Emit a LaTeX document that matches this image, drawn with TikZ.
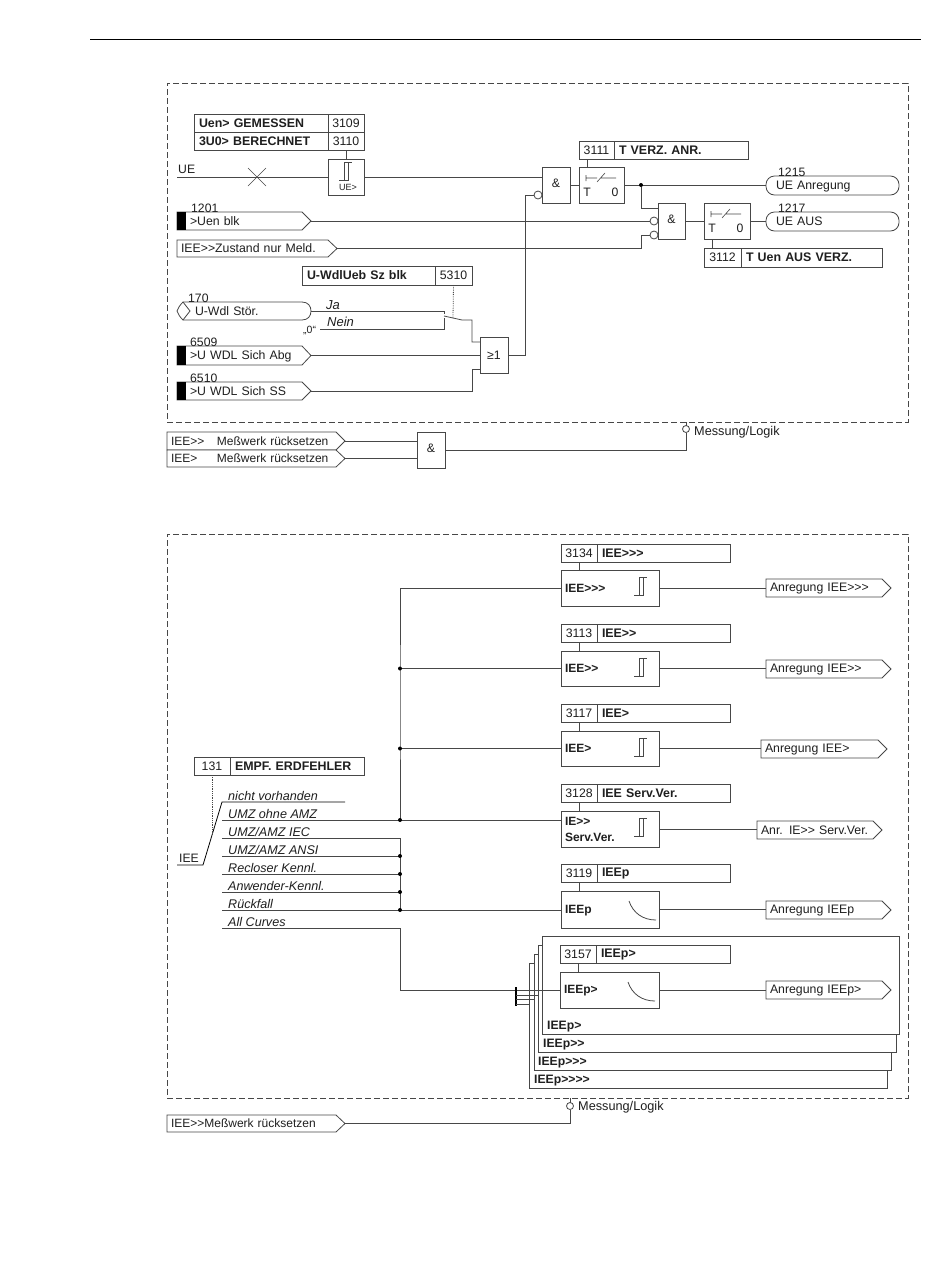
\documentclass[tikz,border=0pt]{standalone}
\usepackage{fontspec}
\setmainfont{Liberation Sans}
\newcommand\bx[7][]{\pgfmathsetmacro\bw{#5-#3}\pgfmathsetmacro\bh{#6-#4}%
  \node[cellbase,minimum width=\bw pt,minimum height=\bh pt,text width=\bw pt-8pt,#1] (#2) at (#3,#4) {\rule[-1.4pt]{0pt}{11.4pt}#7};}
\newcommand\sig[7][]{\draw[wire,fill=white] (#3,#4) -- (#5-9,#4) -- (#5,{(#4+#6)/2}) -- (#5-9,#6) -- (#3,#6) -- cycle;%
  \bx[draw=none,fill=none,#1]{#2}{#3}{#4}{#5}{#6}{#7}}
\newcommand\stad[6]{\draw[wire,fill=white,rounded corners=8.5pt] (#2,#3) rectangle (#4,#5);%
  \bx[draw=none,fill=none]{#1}{#2}{#3}{#4}{#5}{#6}}
\newcommand\hyst[2]{\begin{scope}[shift={(#1,#2)}]\draw[wire,line width=.6pt] (0,18) -- (9,18) -- (9,0) -- (13,0) (5,18) -- (5,0) -- (9,0);\end{scope}}
\newcommand\crv[2]{\begin{scope}[shift={(#1,#2)}]\draw[wire] (68,10) .. controls (72,22) and (82,29) .. (95,29);\end{scope}}
\newcommand\swt[2]{\begin{scope}[shift={(#1,#2)}]
  \draw[wire,line width=.6pt] (7,8) -- (7,14) (7,11) -- (18,11) (18,15) -- (26,6) (22,11) -- (37,11);
  \node[plain,anchor=base] at (8,29) {T}; \node[plain,anchor=base] at (36,29) {0};\end{scope}}
\tikzset{
  wire/.style={draw=black!72,line width=.8pt},
  frame/.style={draw=black!72,line width=.8pt,dash pattern=on 6pt off 3pt},
  cellbase/.style={draw=black!72,line width=.8pt,anchor=north west,inner xsep=4pt,inner ysep=0pt,outer sep=0pt,align=left,font=\fontsize{12.3}{14}\selectfont,text=black!88},
  numcell/.style={align=center},
  txtcell/.style={font=\fontsize{12.4}{14}\selectfont\bfseries},
  gate/.style={align=center,fill=white},
  blockb/.style={font=\fontsize{12}{16}\selectfont\bfseries,fill=white},
  plain/.style={inner sep=0pt,font=\fontsize{12.2}{14}\selectfont,text=black!88},
  opt/.style={plain,anchor=base west,font=\fontsize{12.6}{14}\selectfont\itshape},
  boldlbl/.style={plain,anchor=base west,font=\fontsize{12.2}{14}\selectfont\bfseries},
  dot/.style={circle,fill=black,inner sep=0pt,minimum size=4pt},
  inv/.style={circle,draw=black!72,line width=.8pt,fill=white,inner sep=0pt,minimum size=8pt,outer sep=0pt},
  pick/.style={circle,draw=black!72,line width=.8pt,fill=white,inner sep=0pt,minimum size=7pt,outer sep=0pt},
  rst/.style={font=\fontsize{12}{14}\selectfont}
}
\begin{document}
\begin{tikzpicture}[x=1pt,y=-1pt]
\useasboundingbox (0,0) rectangle (950,1288);
\fill[white] (0,0) rectangle (950,1288);
\draw[black,line width=1pt] (90,39) -- (921,39);
% ------------ upper frame
\bx[frame,fill=none]{frameA}{167}{83}{908}{422}{}
\bx[txtcell]{pa}{194}{114}{328}{132}{\hspace*{1pt}Uen> GEMESSEN}
\bx[numcell]{pan}{328}{114}{364}{132}{3109}
\bx[txtcell]{pb}{194}{132}{328}{150}{\hspace*{1pt}3U0> BERECHNET}
\bx[numcell]{pbn}{328}{132}{364}{150}{3110}
\bx{cmp}{328}{159}{364}{195}{}
\hyst{339}{162}
\node[plain,font=\fontsize{9}{10}\selectfont] (cmpl) at (348,187) {UE>};
\draw[wire] (pbn.south) -- (cmp.north);
\coordinate (ue) at (177,177);
\node[plain,anchor=base west] (uel) at (178,173) {UE};
\draw[wire] (ue) -- (cmp.west);
\draw[wire,line width=.6pt] (248,168) -- (266,186) (248,186) -- (266,168);
\bx[numcell]{ta}{579}{141}{614}{159}{3111}
\bx[txtcell]{tat}{614}{141}{748}{159}{\hspace*{1pt}T VERZ. ANR.}
\bx[gate]{g1}{542}{167}{570}{203}{\raisebox{3pt}{\&}}
\bx{t1}{579}{167}{624}{203}{}
\swt{579}{167}
\draw[wire] (587,159) -- (587,167);
\node[inv] (i1) at (538,195) {};
\draw[wire] (cmp.east) -- (cmp.east -| g1.west);
\draw[wire] (g1.east) -- (t1.west);
\stad{ueanr}{766}{176}{899}{195}{\hspace*{6pt}UE Anregung}
\node[plain,anchor=base west] (n1215) at (778,176) {1215};
\draw[wire] (t1.east) -- (t1.east -| ueanr.west);
\node[dot] (d0) at (641,185) {};
\bx[gate]{g2}{658}{203}{685}{239}{\raisebox{3pt}{\&}}
\node[inv] (i2) at (654,221) {};
\node[inv] (i3) at (654,235) {};
\draw[wire] (d0) |- (658,208);
\bx{t2}{704}{203}{750}{239}{}
\swt{704}{203}
\stad{ueaus}{766}{212}{899}{231}{\hspace*{6pt}UE AUS}
\node[plain,anchor=base west] (n1217) at (778,212) {1217};
\draw[wire] (g2.east) -- (t2.west);
\draw[wire] (t2.east) -- (t2.east -| ueaus.west);
\bx[numcell]{tb}{704}{248}{741}{267}{3112}
\bx[txtcell]{tbt}{741}{248}{882}{267}{\hspace*{1pt}T Uen AUS VERZ.}
\draw[wire] (712,239) -- (712,248);
% inputs
\sig{uenb}{177}{212}{311}{230}{\hspace*{9pt}>Uen blk}
\fill[black] (177,212) rectangle (186,230);
\node[plain,anchor=base west] (n1201) at (191,212) {1201};
\draw[wire] (uenb.east) -- (i2.west);
\sig{zust}{177}{240}{337}{257}{IEE>{}>Zustand nur Meld.}
\draw[wire] (zust.east) -- (641,248.5) |- (i3.west);
\bx[txtcell]{ws}{302}{266}{435}{285}{\hspace*{1pt}U-WdlUeb Sz blk}
\bx[numcell]{wsn}{435}{266}{472}{285}{5310}
% 170
\draw[wire,fill=white] (183,302) -- (302,302) .. controls (308,302) and (311,306) .. (311,311) .. controls (311,316) and (308,320) .. (302,320) -- (183,320) .. controls (180,317) and (178,314) .. (177,311) .. controls (178,308) and (180,305) .. (183,302) -- cycle;
\draw[wire] (183,302) -- (190,311) -- (183,320);
\bx[draw=none,fill=none]{uwdl}{191}{302}{311}{320}{U-Wdl Stör.}
\node[plain,anchor=base west] (n170) at (188,302) {170};
\coordinate (ja) at (444,311);
\coordinate (nein) at (444,329);
\coordinate (zero) at (320,329);
\draw[wire] (uwdl.east) -- (ja) -- (444,314);
\draw[wire] (zero) -- (nein) -- (444,318);
\node[plain,anchor=base west,font=\fontsize{13}{14}\selectfont\itshape] (jal) at (326,309) {Ja};
\node[plain,anchor=base west,font=\fontsize{13}{14}\selectfont\itshape] (neinl) at (327,326) {Nein};
\node[plain,anchor=base west,font=\fontsize{10.5}{12}\selectfont] (zerol) at (303,333) {„0“};
\bx[gate]{o1}{480}{337}{508}{373}{≥1}
\draw[wire] (444,316) -- (462,320) -- (472,320) |- (o1.west |- 0,342);
\draw[wire,densely dotted] (wsn.south) -- (453,318);
\sig{wa}{177}{346}{311}{365}{\hspace*{9pt}>U WDL Sich Abg}
\fill[black] (177,346) rectangle (186,365);
\node[plain,anchor=base west] (n6509) at (190,346) {6509};
\sig{wb}{177}{382}{311}{400}{\hspace*{9pt}>U WDL Sich SS}
\fill[black] (177,382) rectangle (186,400);
\node[plain,anchor=base west] (n6510) at (190,382) {6510};
\draw[wire] (wa.east) -- (o1.west |- wa.east);
\draw[wire] (wb.east) -| (472,369) -- (o1.west |- 0,369);
\draw[wire] (o1.east) -- (525,355) |- (i1.west);
% reset 1
\sig[rst]{r1}{167}{432}{345}{450}{\makebox[46pt][l]{IEE>{}>}Meßwerk rücksetzen}
\sig[rst]{r2}{167}{450}{345}{467}{\makebox[46pt][l]{IEE>}Meßwerk rücksetzen}
\bx[gate]{ar}{417}{432}{445}{468}{\raisebox{3pt}{\&}}
\draw[wire] (r1.east) -- (r1.east -| ar.west);
\draw[wire] (r2.east) -- (r2.east -| ar.west);
\node[pick] (m1) at (686,429) {};
\draw[wire] (686,422) -- (m1.north);
\draw[wire] (ar.east) -| (m1.south);
\node[plain,anchor=base west,font=\fontsize{12.7}{14}\selectfont] (ml1) at (694,435) {Messung/Logik};
% ------------ lower frame
\bx[frame,fill=none]{frameB}{167}{534}{908}{1098}{}
% selector
\bx[numcell]{sel}{194}{757}{230}{775}{131}
\bx[txtcell]{selt}{230}{757}{364}{775}{\hspace*{1pt}EMPF. ERDFEHLER}
\coordinate (iee) at (177,865);
\coordinate (o1c) at (222,802);
\coordinate (o1e) at (345,802);
\node[plain,anchor=base west] (ieel) at (179,862) {IEE};
\draw[wire,black] (iee) -- (203,865) -- (o1c) -- (o1e);
\draw[wire,densely dotted] (212,775) -- (212,834);
\node[opt] (l1) at (228,800) {nicht vorhanden};
\node[opt] (l2) at (228,818) {UMZ ohne AMZ};
\node[opt] (l3) at (228,836) {UMZ/AMZ IEC};
\node[opt] (l4) at (228,854) {UMZ/AMZ ANSI};
\node[opt] (l5) at (228,872) {Recloser Kennl.};
\node[opt] (l6) at (228,890) {Anwender-Kennl.};
\node[opt] (l7) at (228,908) {Rückfall};
\node[opt] (l8) at (228,926) {All Curves};
\coordinate (c2) at (222,820);
\coordinate (c3) at (222,838);
\coordinate (c4) at (222,856);
\coordinate (c5) at (222,874);
\coordinate (c6) at (222,892);
\coordinate (c7) at (222,910);
\coordinate (c8) at (222,928);
\coordinate (busx) at (400,700);
% stages
\bx[numcell]{s1}{561}{544}{597}{562}{3134}
\bx[txtcell]{s1t}{597}{544}{730}{562}{\hspace*{1pt}IEE>{}>{}>}
\bx[blockb]{b1}{561}{570}{659}{606}{IEE>{}>{}>}
\hyst{634}{577}
\sig{a1}{766}{579}{891}{597}{Anregung IEE>{}>{}>}
\bx[numcell]{s2}{561}{624}{597}{642}{3113}
\bx[txtcell]{s2t}{597}{624}{730}{642}{\hspace*{1pt}IEE>{}>}
\bx[blockb]{b2}{561}{651}{659}{686}{IEE>{}>}
\hyst{634}{658}
\sig{a2}{766}{660}{891}{678}{Anregung IEE>{}>}
\bx[numcell]{s3}{561}{704}{597}{722}{3117}
\bx[txtcell]{s3t}{597}{704}{730}{722}{\hspace*{1pt}IEE>}
\bx[blockb]{b3}{561}{731}{659}{766}{IEE>}
\hyst{634}{738}
\sig{a3}{761}{740}{887}{758}{Anregung IEE>}
\bx[numcell]{s4}{561}{784}{597}{802}{3128}
\bx[txtcell]{s4t}{597}{784}{730}{802}{\hspace*{1pt}IEE Serv.Ver.}
\bx[blockb]{b4}{561}{811}{659}{847}{IE>{}>\\Serv.Ver.}
\hyst{634}{818}
\sig{a4}{757}{821}{882}{839}{Anr. IE>{}> Serv.Ver.}
\bx[numcell]{s5}{561}{864}{597}{882}{3119}
\bx[txtcell]{s5t}{597}{864}{730}{882}{\hspace*{1pt}IEEp}
\bx[blockb]{b5}{561}{891}{659}{928}{IEEp}
\crv{561}{891}
\sig{a5}{766}{901}{891}{919}{Anregung IEEp}
\draw[wire] (579,562) -- (579,570) (579,642) -- (579,651) (579,722) -- (579,731) (579,802) -- (579,811) (579,882) -- (579,891);
\draw[wire] (b1.east) -- (b1.east -| a1.west);
\draw[wire] (b2.east) -- (b2.east -| a2.west);
\draw[wire] (b3.east) -- (b3.east -| a3.west);
\draw[wire] (b4.east) -- (b4.east -| a4.west);
\draw[wire] (b5.east) -- (b5.east -| a5.west);
% bus wiring
\draw[wire] (b1.west) -| (busx) |- (c2);
\draw[wire] (c2) -- (c2 -| b4.west);
\draw[wire] (b2.west) -- (b2.west -| busx);
\draw[wire] (b3.west) -- (b3.west -| busx);
\draw[wire] (c3) -| (busx |- c7);
\draw[wire] (c4) -- (c4 -| busx);
\draw[wire] (c5) -- (c5 -| busx);
\draw[wire] (c6) -- (c6 -| busx);
\draw[wire] (c7) -- (c7 -| b5.west);
\node[dot] at (b2.west -| busx) {};
\node[dot] at (b3.west -| busx) {};
\node[dot] at (c2 -| busx) {};
\node[dot] at (c4 -| busx) {};
\node[dot] at (c5 -| busx) {};
\node[dot] at (c6 -| busx) {};
\node[dot] at (c7 -| busx) {};
% stacked stages
\bx[fill=white]{r4}{529}{963}{887}{1088}{}
\bx[fill=white]{r3}{534}{954}{891}{1070}{}
\bx[fill=white]{r2b}{538}{945}{896}{1052}{}
\bx[fill=white]{r1b}{542}{936}{899}{1034}{}
\node[boldlbl] (rl1) at (547,1029) {IEEp>};
\node[boldlbl] (rl2) at (543,1047) {IEEp>{}>};
\node[boldlbl] (rl3) at (538,1065) {IEEp>{}>{}>};
\node[boldlbl] (rl4) at (534,1083) {IEEp>{}>{}>{}>};
\bx[numcell]{s6}{560}{945}{596}{963}{3157}
\bx[txtcell]{s6t}{596}{945}{730}{963}{\hspace*{1pt}IEEp>}
\bx[blockb]{b6}{560}{972}{659}{1008}{IEEp>}
\crv{560}{972}
\sig{a6}{766}{981}{891}{999}{Anregung IEEp>}
\draw[wire] (578,963) -- (578,972);
\draw[wire] (b6.east) -- (b6.east -| a6.west);
\coordinate (bus2) at (516,990);
\draw[wire] (c8) -| (400,990) -- (b6.west);
\draw[black,line width=1.6pt] (516,987) -- (516,1006);
\draw[wire] (bus2 |- 0,995) -- (r2b.west |- 0,995);
\draw[wire] (bus2 |- 0,999.5) -- (r3.west |- 0,999.5);
\draw[wire] (bus2 |- 0,1004) -- (r4.west |- 0,1004);
% reset 2
\sig[rst]{r3b}{167}{1115}{345}{1132}{IEE>{}>Meßwerk rücksetzen}
\node[pick] (m2) at (570,1106) {};
\draw[wire] (570,1098) -- (m2.north);
\draw[wire] (r3b.east) -| (m2.south);
\node[plain,anchor=base west,font=\fontsize{12.7}{14}\selectfont] (ml2) at (578,1110) {Messung/Logik};
\end{tikzpicture}
\end{document}
